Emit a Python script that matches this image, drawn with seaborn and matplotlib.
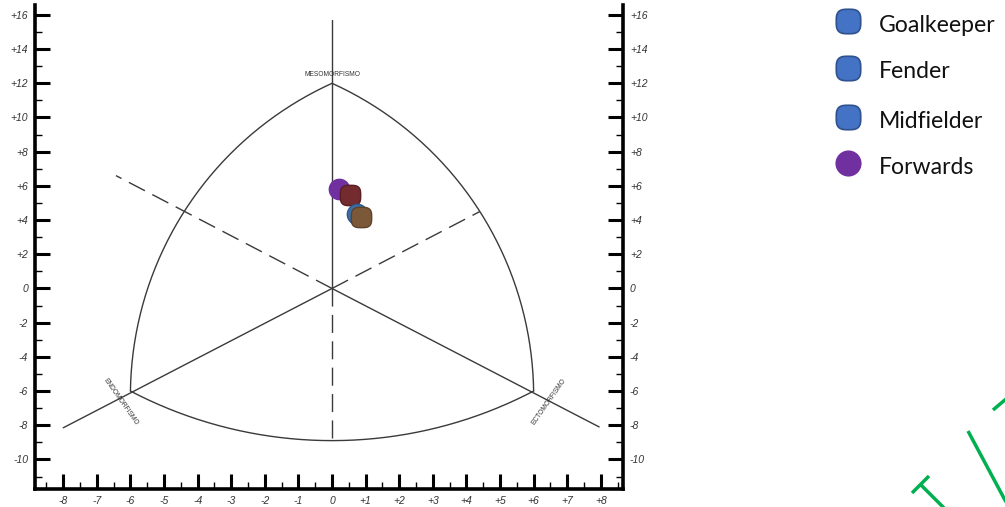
import numpy as np
import pandas as pd
import matplotlib.pyplot as plt
import seaborn as sns
from matplotlib.path import Path
from matplotlib.lines import Line2D
from matplotlib.ticker import MultipleLocator, FixedLocator

# somatotype points (X = ecto - endo, Y = 2*meso - (endo + ecto))
point_names = ['Forwards', 'Goalkeeper', 'Fender', 'Midfielder']
point_x = [0.22, 0.54, 0.73, 0.87]
point_y = [5.80, 5.44, 4.37, 4.18]
point_colors = ['#7030A0', '#742B30', '#3D6FA8', '#7B5838']
point_edges = ['#7030A0', '#5A1E22', '#2F5A8A', '#5E4128']
point_shapes = ['circle', 'rounded', 'circle', 'rounded']

# legend as shown in the picture
legend_labels = ['Goalkeeper', 'Fender', 'Midfielder', 'Forwards']
legend_colors = ['#4472C4', '#4472C4', '#4472C4', '#7030A0']
legend_edges = ['#2F528F', '#2F528F', '#2F528F', '#7030A0']

# somatochart frame
apex = (0, 12)
endo_corner = (-6, -6)
ecto_corner = (6, -6)
left_arc_mid = (-4.4, 4.5)
right_arc_mid = (4.4, 4.5)
bottom_arc_mid = (0, -8.9)
y_ticks = [16, 14, 12, 10, 8, 6, 4, 2, 0, -2, -4, -6, -8, -10]
x_ticks = list(range(-8, 9))

XS = 33.6 / 17.1  # pixel aspect between x and y units


def fmt(v):
    return f'+{v}' if v > 0 else f'{v}'


def arc_points(p0, pm, p1, n=200):
    # circle through three points in display-proportional space
    a = np.array([p0[0] * XS, p0[1]])
    b = np.array([pm[0] * XS, pm[1]])
    c = np.array([p1[0] * XS, p1[1]])
    d = 2 * (a[0] * (b[1] - c[1]) + b[0] * (c[1] - a[1]) + c[0] * (a[1] - b[1]))
    ux = ((a @ a) * (b[1] - c[1]) + (b @ b) * (c[1] - a[1]) + (c @ c) * (a[1] - b[1])) / d
    uy = ((a @ a) * (c[0] - b[0]) + (b @ b) * (a[0] - c[0]) + (c @ c) * (b[0] - a[0])) / d
    r = np.hypot(a[0] - ux, a[1] - uy)
    t0 = np.arctan2(a[1] - uy, a[0] - ux)
    tm = np.arctan2(b[1] - uy, b[0] - ux)
    t1 = np.arctan2(c[1] - uy, c[0] - ux)

    def norm(t):
        return (t - t0) % (2 * np.pi)
    if norm(tm) < norm(t1):
        ts = t0 + np.linspace(0, norm(t1), n)
    else:
        ts = t0 - np.linspace(0, 2 * np.pi - norm(t1), n)
    return (ux + r * np.cos(ts)) / XS, uy + r * np.sin(ts)


def rounded_marker(n=3.2):
    t = np.linspace(0, 2 * np.pi, 80)
    x = np.sign(np.cos(t)) * np.abs(np.cos(t)) ** (2 / n)
    y = np.sign(np.sin(t)) * np.abs(np.sin(t)) ** (2 / n)
    return Path(np.column_stack([x, y]), closed=True)


sns.set_style('white')
plt.rcParams['font.family'] = ['Liberation Sans', 'DejaVu Sans']

fig = plt.figure(figsize=(10.05, 5.07), dpi=100)
ax = fig.add_axes([35 / 1005, 18 / 507, (623 - 35) / 1005, (489 - 5) / 507])
ax.set_xlim(-8.84, 8.66)
ax.set_ylim(-11.73, 16.58)

line_kw = dict(color='#3a3a3a', lw=1.0)
dash_kw = dict(color='#3a3a3a', lw=1.0, dashes=(13, 6))

# arcs
for p0, pm, p1 in [(endo_corner, left_arc_mid, apex),
                   (apex, right_arc_mid, ecto_corner),
                   (endo_corner, bottom_arc_mid, ecto_corner)]:
    ax_x, ax_y = arc_points(p0, pm, p1)
    ax.plot(ax_x, ax_y, **line_kw)

# axes of the chart
ax.plot([0, 0], [0, 15.7], **line_kw)
ax.plot([0, -8], [0, -8.15], **line_kw)
ax.plot([0, 7.95], [0, -8.1], **line_kw)
ax.plot([0, 0], [0, bottom_arc_mid[1]], **dash_kw)
ax.plot([0, -6.43], [0, 6.6], **dash_kw)
ax.plot([0, right_arc_mid[0]], [0, right_arc_mid[1]], **dash_kw)

lab_kw = dict(fontsize=4.8, color='#333333', ha='center', va='center',
              rotation_mode='anchor')
ax.text(0, 12.5, 'MESOMORFISMO', **lab_kw)
ax.text(-6.3, -6.64, 'ENDOMORFISMO', rotation=-55, **lab_kw)
ax.text(6.47, -6.6, 'ECTOMORFISMO', rotation=55, **lab_kw)

# points
rm = rounded_marker()
df = pd.DataFrame({'name': point_names, 'x': point_x, 'y': point_y})
for i, row in df.iterrows():
    mk = 'o' if point_shapes[i] == 'circle' else rm
    sns.scatterplot(x=[row['x']], y=[row['y']], ax=ax, marker=mk, s=215,
                    color=point_colors[i], edgecolor=point_edges[i],
                    linewidth=1.0, zorder=5 + i, legend=False)

# spines and ticks
ax.spines['top'].set_visible(False)
for s in ['left', 'right', 'bottom']:
    ax.spines[s].set_visible(True)
    ax.spines[s].set_linewidth(2.6)
    ax.spines[s].set_color('black')

ax.yaxis.set_major_locator(FixedLocator(y_ticks))
ax.yaxis.set_minor_locator(FixedLocator(np.arange(-11, 17, 2)))
ax.xaxis.set_major_locator(FixedLocator(x_ticks))
ax.xaxis.set_minor_locator(MultipleLocator(0.5))
ax.set_yticklabels([fmt(v) for v in y_ticks])
ax.set_xticklabels([fmt(v) for v in x_ticks])
ax.tick_params(axis='both', which='major', direction='in', length=11,
               width=2.2, color='black', labelsize=7.5, labelcolor='#333333', pad=5)
ax.tick_params(axis='both', which='minor', direction='in', length=5,
               width=1.0, color='black')
ax.tick_params(axis='y', which='both', left=True, right=True,
               labelleft=True, labelright=True)
ax.tick_params(axis='x', which='both', bottom=True, top=False)
for t in ax.get_xticklabels() + ax.get_yticklabels():
    t.set_fontstyle('italic')
ax.set_xlabel('')
ax.set_ylabel('')

# legend drawn in its own axes
lax = fig.add_axes([0, 0, 1, 1], facecolor='none')
lax.set_xlim(0, 1005)
lax.set_ylim(507, 0)
lax.axis('off')
leg_y = [21, 68, 117, 163]
for lbl, col, ec, yy in zip(legend_labels, legend_colors, legend_edges, leg_y):
    mk = 'o' if col == '#7030A0' else rm
    sns.scatterplot(x=[848], y=[yy], ax=lax, marker=mk, s=310, color=col,
                    edgecolor=ec, linewidth=1.2, legend=False)
    lax.text(879, yy + 4, lbl, fontsize=16.6, family=['Lato', 'DejaVu Sans'],
             color='#111111', va='center', ha='left')

# green decoration at the bottom right
green = '#00B050'
for (x0, y0), (x1, y1) in [((912, 493), (929, 476)), ((921, 485), (946, 510)),
                           ((968, 431), (1006, 502)), ((993, 410), (1006, 399))]:
    lax.add_line(Line2D([x0, x1], [y0, y1], color=green, lw=2.5,
                        solid_capstyle='butt'))

fig.savefig('out.png', dpi=100)
